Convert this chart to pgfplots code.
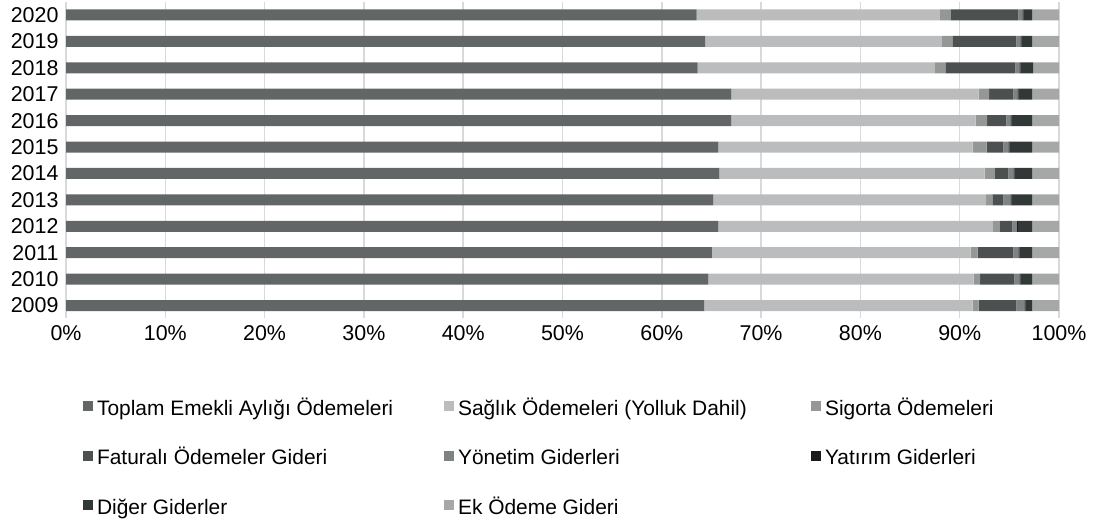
\documentclass[border=0pt]{standalone}
\usepackage{pgfplots}
\pgfplotsset{compat=1.18}
\usepackage{fontspec}
\setmainfont{Liberation Sans}
\definecolor{cA}{HTML}{636666}
\definecolor{cB}{HTML}{BBBCBD}
\definecolor{cC}{HTML}{959796}
\definecolor{cD}{HTML}{4C5050}
\definecolor{cE}{HTML}{7F8383}
\definecolor{cF}{HTML}{1C1C1C}
\definecolor{cG}{HTML}{323737}
\definecolor{cH}{HTML}{A6A8A8}
\definecolor{gridc}{HTML}{D9D9D9}
\begin{document}
\begin{tikzpicture}
\begin{axis}[
  xbar stacked,
  scale only axis,
  width=993bp, height=316bp,
  xmin=0, xmax=100, ymin=-0.47, ymax=11.49,
  bar width=11bp,
  xtick={0,10,20,30,40,50,60,70,80,90,100},
  xticklabel={\pgfmathprintnumber{\tick}\%},
  ytick={0,1,2,3,4,5,6,7,8,9,10,11},
  yticklabels={2009,2010,2011,2012,2013,2014,2015,2016,2017,2018,2019,2020},
  /pgf/number format/assume math mode=true,
  tick style={draw=none},
  axis line style={draw=none},
  xmajorgrids,
  grid style={color=gridc, line width=1.5bp},
  tick label style={font=\fontsize{21.5}{25}\selectfont, text=black},
  xticklabel style={yshift=-4bp},
  yticklabel style={xshift=-4bp},
  every axis plot/.append style={draw=none},
  legend columns=3,
  legend cell align=left,
  legend style={at={(rel axis cs:0.017,-0.245)}, anchor=north west, draw=none, fill=none,
    inner sep=0pt, font=\fontsize{21}{25}\selectfont, row sep=26.5bp, column sep=0pt,
    nodes={inner ysep=2bp, inner xsep=4bp}},
  legend image code/.code={\fill[#1,draw=none] (0bp,-4bp) rectangle (10bp,6bp);},
]
\addplot+[fill=cA] coordinates {(64.25,0) (64.7,1) (65.05,2) (65.7,3) (65.2,4) (65.8,5) (65.7,6) (67.0,7) (67.0,8) (63.6,9) (64.35,10) (63.5,11)};
\addplot+[fill=cB] coordinates {(27.05,0) (26.7,1) (26.05,2) (27.65,3) (27.45,4) (26.7,5) (25.6,6) (24.6,7) (24.9,8) (23.9,9) (23.85,10) (24.5,11)};
\addplot+[fill=cC] coordinates {(0.6,0) (0.65,1) (0.7,2) (0.7,3) (0.65,4) (1.05,5) (1.4,6) (1.15,7) (1.05,8) (1.05,9) (1.05,10) (1.1,11)};
\addplot+[fill=cD] coordinates {(3.8,0) (3.45,1) (3.6,2) (1.25,3) (1.1,4) (1.35,5) (1.7,6) (1.95,7) (2.45,8) (7.05,9) (6.45,10) (6.8,11)};
\addplot+[fill=cE] coordinates {(0.8,0) (0.5,1) (0.5,2) (0.45,3) (0.7,4) (0.5,5) (0.5,6) (0.4,7) (0.4,8) (0.4,9) (0.4,10) (0.4,11)};
\addplot+[fill=cF] coordinates {(0.1,0) (0.1,1) (0.1,2) (0.1,3) (0.1,4) (0.1,5) (0.1,6) (0.1,7) (0.1,8) (0.1,9) (0.1,10) (0.1,11)};
\addplot+[fill=cG] coordinates {(0.7,0) (1.2,1) (1.3,2) (1.45,3) (2.1,4) (1.8,5) (2.3,6) (2.1,7) (1.4,8) (1.3,9) (1.1,10) (0.9,11)};
\addplot+[fill=cH] coordinates {(2.7,0) (2.7,1) (2.7,2) (2.7,3) (2.7,4) (2.7,5) (2.7,6) (2.7,7) (2.7,8) (2.6,9) (2.7,10) (2.7,11)};
\addlegendentry{\makebox[343bp][l]{\strut Toplam Emekli Aylığı Ödemeleri}}
\addlegendentry{\makebox[349bp][l]{\strut Sağlık Ödemeleri (Yolluk Dahil)}}
\addlegendentry{\strut Sigorta Ödemeleri}
\addlegendentry{\makebox[343bp][l]{\strut Faturalı Ödemeler Gideri}}
\addlegendentry{\makebox[349bp][l]{\strut Yönetim Giderleri}}
\addlegendentry{\strut Yatırım Giderleri}
\addlegendentry{\makebox[343bp][l]{\strut Diğer Giderler}}
\addlegendentry{\makebox[349bp][l]{\strut Ek Ödeme Gideri}}
\coordinate (bbsw) at (rel axis cs:-0.06647,-0.6424);
\coordinate (bbne) at (rel axis cs:1.03424,1.00633);
\end{axis}
\pgfresetboundingbox
\path (bbsw) rectangle (bbne);
\end{tikzpicture}
\end{document}
